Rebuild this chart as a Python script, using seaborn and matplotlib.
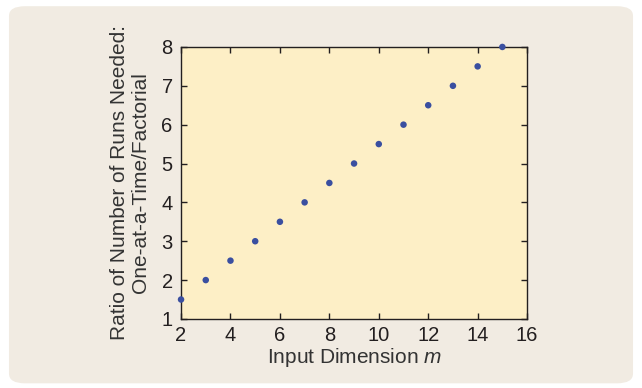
import numpy as np
import pandas as pd
import seaborn as sns
import matplotlib
from matplotlib import pyplot as plt
from matplotlib.patches import FancyBboxPatch

# data
dims = [2, 3, 4, 5, 6, 7, 8, 9, 10, 11, 12, 13, 14, 15]
ratios = [1.5, 2.0, 2.5, 3.0, 3.5, 4.0, 4.5, 5.0, 5.5, 6.0, 6.5, 7.0, 7.5, 8.0]
xticks = [2, 4, 6, 8, 10, 12, 14, 16]
yticks = [1, 2, 3, 4, 5, 6, 7, 8]

sns.set_style('ticks')
plt.rcParams['font.family'] = ['Liberation Sans', 'DejaVu Sans']
plt.rcParams['mathtext.fontset'] = 'custom'
plt.rcParams['mathtext.it'] = 'Liberation Sans:italic'
matplotlib.rc('font', size=12)

df = pd.DataFrame({'m': dims, 'ratio': ratios})

fig = plt.figure(figsize=(6.42, 3.88), dpi=100)
fig.patch.set_facecolor('white')
bg = FancyBboxPatch((0.014, 0.012), 0.972, 0.972, boxstyle='round,pad=0,rounding_size=0.025',
                    transform=fig.transFigure, facecolor='#f1ebe2', edgecolor='none', zorder=-10)
fig.patches.append(bg)

ax = fig.add_axes([0.282, 0.178, 0.539, 0.701])
ax.set_zorder(1)
ax.set_facecolor('#fdefc6')
sns.scatterplot(data=df, x='m', y='ratio', ax=ax, color='#3a4fa0', s=22,
                edgecolor='none', clip_on=False, zorder=5)

ax.set_xlim(2, 16)
ax.set_ylim(1, 8)
ax.set_xticks(xticks)
ax.set_yticks(yticks)
ax.tick_params(direction='in', length=4, width=1, top=True, right=True,
               labelsize=14.5, colors='#231f20', pad=5)
ax.tick_params(axis='y', pad=6)
for s in ax.spines.values():
    s.set_visible(True)
    s.set_color('#231f20')
    s.set_linewidth(1)

ax.set_xlabel('Input Dimension $m$', fontsize=15, color='#333333', labelpad=1)
ax.set_ylabel('Ratio of Number of Runs Needed:\nOne-at-a-Time/Factorial',
              fontsize=15, color='#333333', labelpad=8, linespacing=1.15)

plt.savefig('out.png', dpi=100, facecolor=fig.get_facecolor())
